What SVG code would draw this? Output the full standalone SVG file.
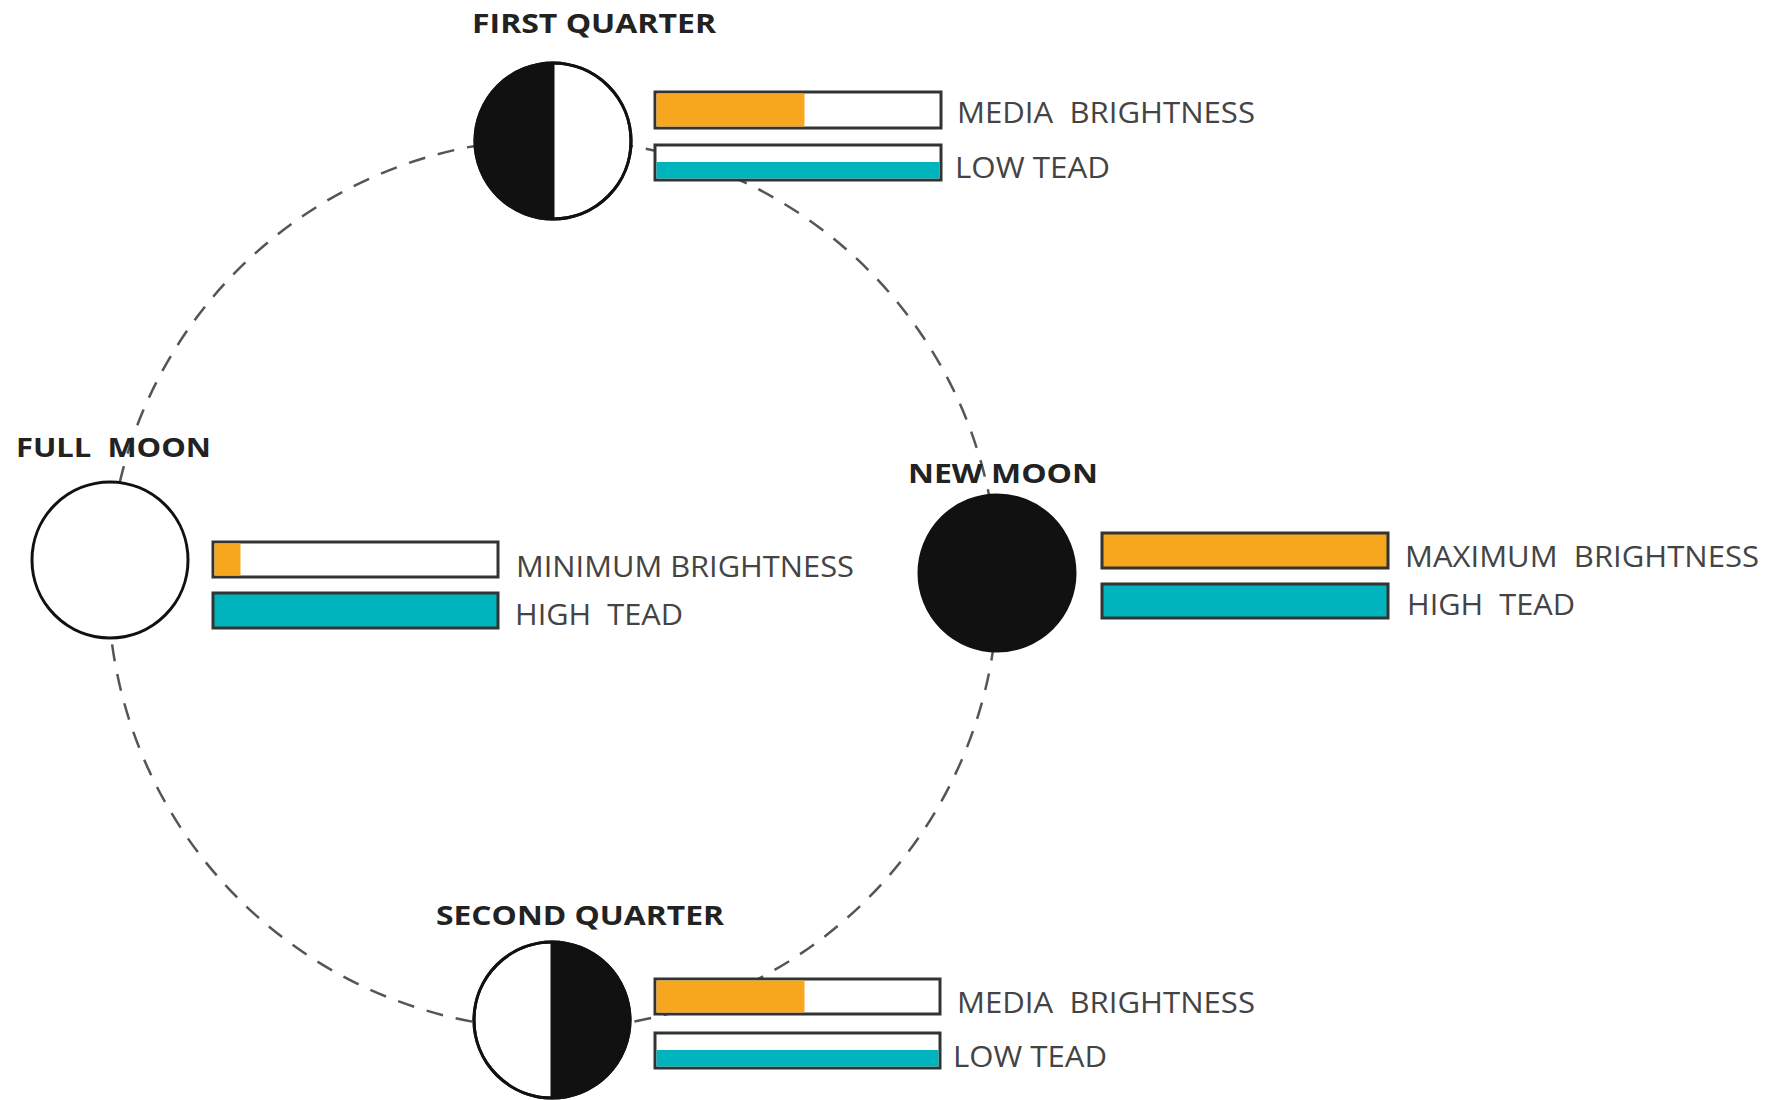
<svg xmlns="http://www.w3.org/2000/svg" width="1779" height="1100" viewBox="0 0 1779 1100">
<style>
.orbit{fill:none;stroke:#555;stroke-width:2.5;stroke-dasharray:17 13}
.moon{stroke:#111;stroke-width:3}
.bar{fill:#fff;stroke:#333;stroke-width:3}
.or{fill:#F6A71E}
.cy{fill:#00B4BE}
.title{font-family:"Open Sans","Liberation Sans",sans-serif;font-weight:700;font-size:26px;fill:#222;white-space:pre}
.lbl{font-family:"Open Sans","Liberation Sans",sans-serif;font-weight:400;font-size:30px;fill:#444;white-space:pre}
</style>
<rect width="1779" height="1100" fill="#fff"/>
<g id="connectors">
<circle class="orbit" cx="553" cy="584" r="445"/>
</g>
<g id="first-quarter">
<text class="title" x="472" y="33" textLength="244" lengthAdjust="spacingAndGlyphs">FIRST QUARTER</text>
<circle class="moon" cx="553" cy="141" r="78" fill="#fff"/>
<path d="M553 63 A78 78 0 0 0 553 219 Z" fill="#111"/>
<circle class="moon" cx="553" cy="141" r="78" fill="none"/>
<line x1="553" y1="63" x2="553" y2="219" stroke="#111" stroke-width="3"/>
<rect class="bar" x="655" y="92" width="286" height="36"/>
<rect class="or" x="656.5" y="93.5" width="148" height="33"/>
<rect class="bar" x="655" y="145" width="286" height="35"/>
<rect class="cy" x="656.5" y="162" width="283" height="16.5"/>
<text class="lbl" x="957" y="123" textLength="298" lengthAdjust="spacingAndGlyphs">MEDIA  BRIGHTNESS</text>
<text class="lbl" x="955" y="178" textLength="155" lengthAdjust="spacingAndGlyphs">LOW TEAD</text>
</g>
<g id="full-moon">
<text class="title" x="16" y="457" textLength="195" lengthAdjust="spacingAndGlyphs">FULL  MOON</text>
<circle class="moon" cx="110" cy="560" r="78" fill="#fff"/>
<rect class="bar" x="213" y="542" width="285" height="35"/>
<rect class="or" x="214.5" y="543.5" width="26" height="32"/>
<rect class="bar cy" x="213" y="593" width="285" height="35"/>
<text class="lbl" x="516" y="577" textLength="338" lengthAdjust="spacingAndGlyphs">MINIMUM BRIGHTNESS</text>
<text class="lbl" x="515" y="625" textLength="168" lengthAdjust="spacingAndGlyphs">HIGH  TEAD</text>
</g>
<g id="new-moon">
<text class="title" x="908" y="483" textLength="190" lengthAdjust="spacingAndGlyphs">NEW MOON</text>
<circle class="moon" cx="997" cy="573" r="78" fill="#111"/>
<rect class="bar or" x="1102" y="533" width="286" height="35"/>
<rect class="bar cy" x="1102" y="584" width="286" height="34"/>
<text class="lbl" x="1405" y="567" textLength="354" lengthAdjust="spacingAndGlyphs">MAXIMUM  BRIGHTNESS</text>
<text class="lbl" x="1407" y="615" textLength="168" lengthAdjust="spacingAndGlyphs">HIGH  TEAD</text>
</g>
<g id="second-quarter">
<text class="title" x="436" y="925" textLength="288" lengthAdjust="spacingAndGlyphs">SECOND QUARTER</text>
<circle class="moon" cx="552" cy="1020" r="78" fill="#fff"/>
<path d="M552 942 A78 78 0 0 1 552 1098 Z" fill="#111"/>
<circle class="moon" cx="552" cy="1020" r="78" fill="none"/>
<line x1="552" y1="942" x2="552" y2="1098" stroke="#111" stroke-width="3"/>
<rect class="bar" x="655" y="979" width="285" height="35"/>
<rect class="or" x="656.5" y="980.5" width="148" height="32"/>
<rect class="bar" x="655" y="1033" width="285" height="35"/>
<rect class="cy" x="656.5" y="1050" width="282" height="16.5"/>
<text class="lbl" x="957" y="1013" textLength="298" lengthAdjust="spacingAndGlyphs">MEDIA  BRIGHTNESS</text>
<text class="lbl" x="953" y="1067" textLength="154" lengthAdjust="spacingAndGlyphs">LOW TEAD</text>
</g>
</svg>
